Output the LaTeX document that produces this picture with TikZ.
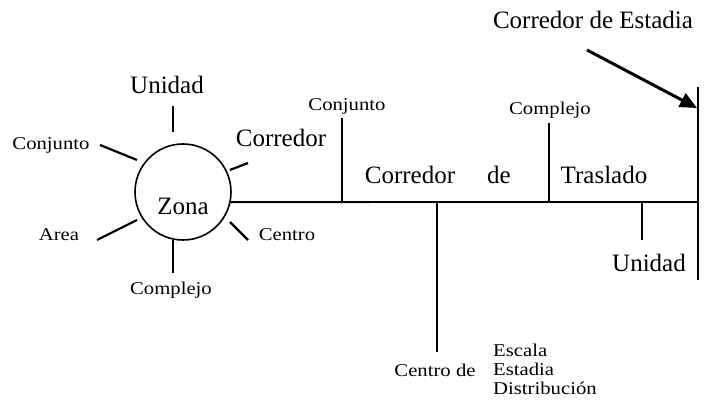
\documentclass[tikz,border=0pt]{standalone}
\usepackage{fontspec}
\setmainfont{Liberation Serif}
\newfontfamily\widefont[FakeStretch=1.15]{Liberation Serif}
\usetikzlibrary{arrows.meta}
\begin{document}
\begin{tikzpicture}[x=1pt,y=-1pt,
    big/.style={font=\fontsize{25}{27}\selectfont,inner sep=0pt},
    small/.style={font=\widefont\fontsize{18}{19}\selectfont,inner sep=0pt},
    spoke/.style={line width=2.2pt},
    axis/.style={line width=1.8pt}]
  \useasboundingbox (0,0) rectangle (706,411);
  % zona
  \node[circle,draw,line width=1.6pt,minimum size=96pt,inner sep=0pt]
    (zona) at (183,192) {};
  \node[big] (zonatxt) at (183,206) {Zona};
  \node[big] (unidadA) at (167,85) {Unidad};
  \node[small] (conjuntoA) at (51,145) {Conjunto};
  \node[big] (corredorA) at (281,138) {Corredor};
  \node[small] (areaA) at (59,235) {Area};
  \node[small] (centroA) at (287,235) {Centro};
  \node[small] (complejoA) at (171,290) {Complejo};
  \coordinate (su1) at (173,106);
  \coordinate (su2) at (173,132);
  \coordinate (sc1) at (100,145);
  \coordinate (sc2) at (137,160);
  \coordinate (sr1) at (230,170);
  \coordinate (sr2) at (248,163);
  \coordinate (sa1) at (97,240);
  \coordinate (sa2) at (137,220);
  \coordinate (se1) at (230,222);
  \coordinate (se2) at (248,240);
  \coordinate (sp1) at (173,240);
  \coordinate (sp2) at (173,273);
  \draw[spoke] (su1) -- (su2);
  \draw[spoke] (sc1) -- (sc2);
  \draw[spoke] (sr1) -- (sr2);
  \draw[spoke] (sa1) -- (sa2);
  \draw[spoke] (se1) -- (se2);
  \draw[spoke] (sp1) -- (sp2);
  % corredor de traslado
  \coordinate (fin) at (698,202);
  \coordinate (finT) at (698,87);
  \coordinate (finB) at (698,280);
  \draw[axis] (zona.-12) -- (fin);
  \draw[axis] (finT) -- (finB);
  \coordinate (cjB) at (342,202);
  \coordinate (cjT) at (342,118);
  \coordinate (cpB) at (549,202);
  \coordinate (cpT) at (549,123);
  \coordinate (unT) at (642,202);
  \coordinate (unB) at (642,240);
  \coordinate (ctT) at (437,202);
  \coordinate (ctB) at (437,352);
  \draw[axis] (cjB) -- (cjT);
  \draw[axis] (cpB) -- (cpT);
  \draw[axis] (unT) -- (unB);
  \draw[axis] (ctT) -- (ctB);
  \node[small] (conjuntoB) at (347,106) {Conjunto};
  \node[small] (complejoB) at (550,110) {Complejo};
  \node[big] (corredorB) at (410,175) {Corredor};
  \node[big] (deB) at (499,175) {de};
  \node[big] (trasladoB) at (604,175) {Traslado};
  \node[big] (unidadB) at (649,263) {Unidad};
  \node[small] (centroB) at (435,370) {Centro de};
  \node[small,anchor=west,align=left,
    font=\widefont\fontsize{18}{19}\selectfont] (escala) at (493,369)
    {Escala\\Estadia\\Distribución};
  % corredor de estadia
  \node[big] (estadia) at (593,20) {Corredor de Estadia};
  \coordinate (flA) at (587,50);
  \coordinate (flB) at (697,108);
  \draw[line width=3pt,-{Triangle[length=17pt,width=15pt]}] (flA) -- (flB);
\end{tikzpicture}
\end{document}
